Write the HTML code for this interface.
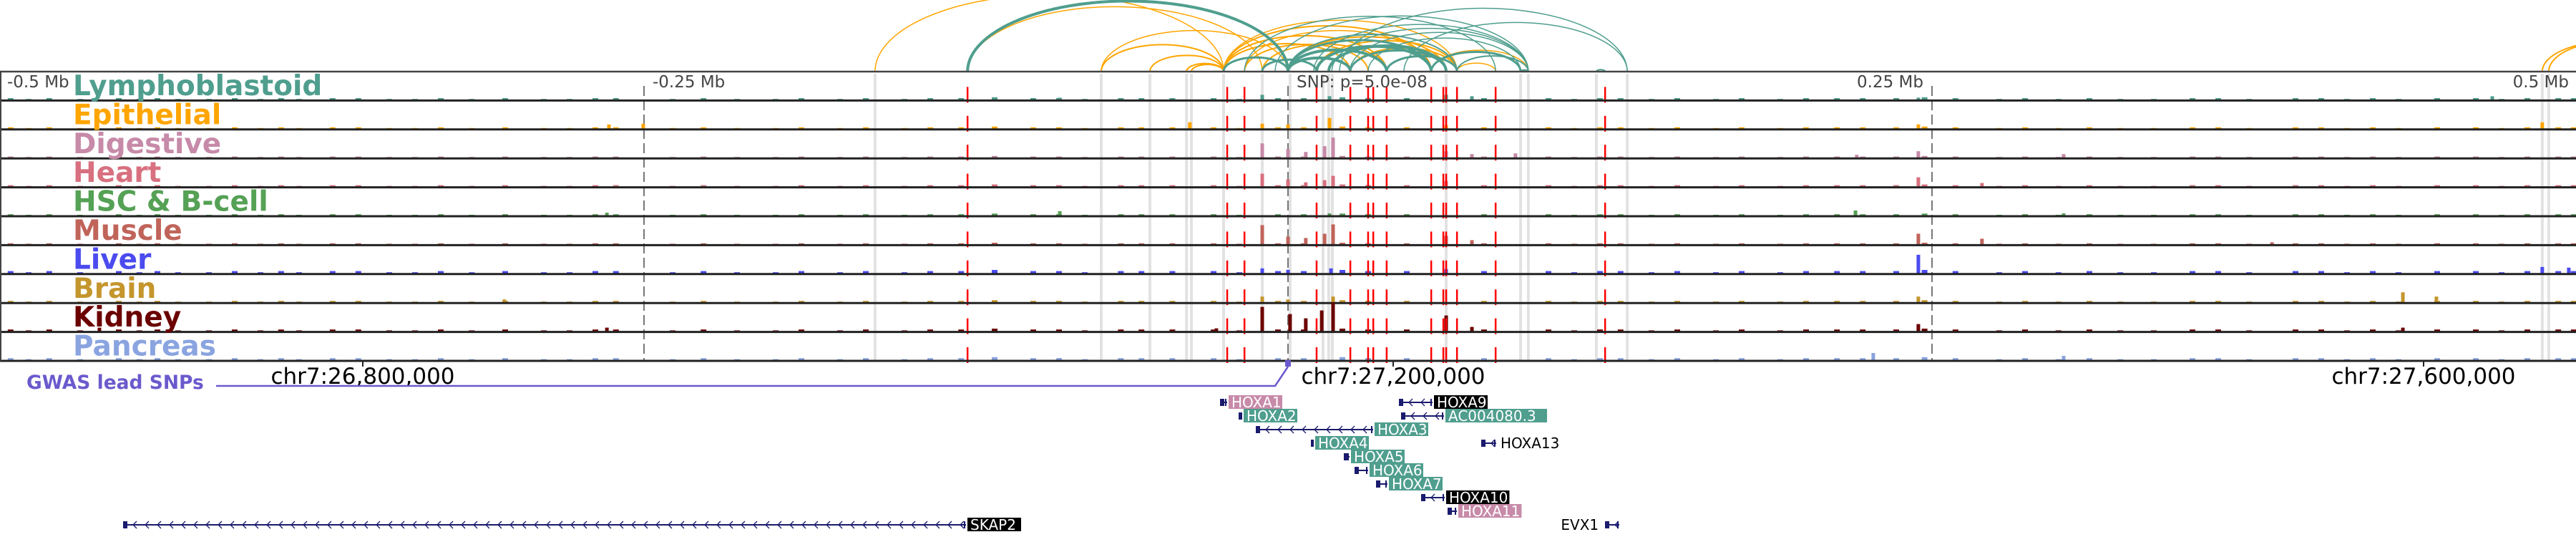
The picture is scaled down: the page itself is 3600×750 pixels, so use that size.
<!DOCTYPE html>
<html><head><meta charset="utf-8"><style>
html,body{margin:0;padding:0;background:#fff;}
svg{display:block;font-family:"DejaVu Sans","Liberation Sans",sans-serif;}
</style></head><body>
<svg id="chart" width="3600" height="750" viewBox="0 0 3600 750" xmlns="http://www.w3.org/2000/svg"></svg>
<script>
// ---- data ----
const trackNames = ["Lymphoblastoid","Epithelial","Digestive","Heart","HSC & B-cell","Muscle","Liver","Brain","Kidney","Pancreas"];
const trackColors = ["#4f9e8e","#ffa500","#c78aa8","#d8707f","#55a155","#c0645a","#4b4bef","#c4962c","#6b0000","#8aa4e0"];
const redSnpsKb = [-124.4,-23.6,-16.9,11.1,24.2,31.1,33.1,38.3,55.6,60.3,61.4,65.6,80.6,123.1];
const grayBandsKb = [-160.3,-72.5,-53.6,-39.4,-37.5,-25,-10,0.8,13.6,15.8,17.2,61.4,90.3,93.3,119.7,131.7,486.9,489.4];
const axisTicksKb = [-500,-250,0,250,500];
const axisTickLabels = ["-0.5 Mb","-0.25 Mb","SNP: p=5.0e-08","0.25 Mb","0.5 Mb"];
const bgBinsKb = [-497,-490,-482,-470,-455,-447,-440,-432,-420,-410,-400,-392,-385,-372,-362,-350,-340,-330,-318,-305,-290,-280,-270,-262,-240,-228,-215,-200,-190,-175,-165,-150,-140,-128,-115,-100,-90,-80,-66,-58,-46,-30,-20,-5,5,20,30,45,75,100,110,120,128,140,150,165,175,190,200,212,222,235,246,258,275,285,298,310,322,335,350,360,372,390,400,410,420,430,445,460,470,480,492,498];
const bgBinsH = [2,1,2,1,2,1,2,1,1,2,1,2,1,2,2,1,1,2,1,2,1,1,2,2,1,2,1,1,2,1,2,1,2,2,3,2,2,1,2,2,2,2,1,2,2,3,2,2,2,2,1,2,2,1,2,1,2,1,2,2,2,2,3,2,1,2,1,2,1,1,2,2,1,2,2,1,2,1,2,2,1,2,2,2];
const bgScale = [1.2,1,0.8,1,0.9,0.8,1.6,1,1.2,1.4];
const peaksLympho = [[-10,7],[16.1,5],[61.4,7],[71.4,5],[-88.6,3],[467.5,5],[244.7,3]];
const peaksEpi = [[-38.1,9],[-10,7],[0,6],[16.1,15],[61.4,5],[-263.6,6],[-250.3,7],[244.7,6],[486.9,9]];
const peaksDig = [[-10,20],[0,12],[6.9,8],[14.2,16],[17.5,28],[61.4,9],[71.4,5],[88.3,6],[244.7,9],[220.8,4],[301.1,5]];
const peaksHeart = [[-10,18],[0,10],[6.9,6],[14.2,9],[17.5,15],[61.4,8],[244.7,13],[269.4,5]];
const peaksHsc = [[16.1,3],[-264.4,4],[-88.6,6],[220.3,7],[301.1,3]];
const peaksMuscle = [[-10,27],[0,11],[6.9,9],[14.2,15],[17.5,28],[61.4,12],[71.4,6],[244.7,15],[269.4,8],[382,3]];
const peaksLiver = [[-10,7],[0,5],[16.7,7],[61.4,6],[244.7,26],[497.2,8],[486.9,9]];
const peaksBrain = [[-10,8],[0,4],[17.5,8],[244.7,8],[432.8,14],[445.8,8],[-304.2,4]];
const peaksKidney = [[-27.8,4],[-10,34],[0.8,24],[6.9,18],[13.1,29],[17.5,40],[61.4,22],[71.4,6],[244.7,10],[-264.4,5],[-461.4,5],[432.8,5]];
const peaksPanc = [[227.2,10],[301.1,6],[-88.6,3]];
const arcTeal = [[-124.4,0,4],[-25,0,3],[-10,11.1,3],[0,24.2,4],[0,38.3,4],[0,55.6,3],[11.1,55.6,4],[15.8,61.4,4],[24.2,61.4,3],[38.3,65.6,3],[0,65.6,2],[55.6,90.3,3],[65.6,93.3,2],[90.3,93.3,2],[119.7,123.1,2],[20,131.7,1.5],[45,131.7,1.5],[10,93.3,1.5],[17,93.3,1.5],[-5,93.3,1.5],[31.1,90.3,1.5],[-16.9,80.6,1.5],[24,93.3,1.5]];
const arcOrange = [[-160.3,-25,1.5],[-124.4,-10,1.5],[-72.5,-25,2],[-53.6,-25,2],[-39.4,-25,2],[-37.5,-25,2],[-72.5,0,1.5],[-25,24.2,2],[-25,38.3,2],[-25,55.6,2],[-16.9,31.1,2],[-10,38.3,2],[0,61.4,2],[11.1,65.6,2],[24.2,65.6,2],[65.6,80.6,1.5],[55.6,93.3,1.5],[-25,65.6,1.5],[-16.9,55.6,1.5],[486.9,540,2],[489.4,545,2]];
const geneNames = ["HOXA1","HOXA2","HOXA3","HOXA4","HOXA5","HOXA6","HOXA7","HOXA9","AC004080.3","HOXA10","HOXA11","HOXA13","EVX1","SKAP2"];
const geneStarts = [27132778,27140000,27146667,27168056,27180833,27185000,27193333,27202222,27203056,27210833,27221111,27234167,27282222,26706944];
const geneEnds = [27135556,27141389,27192222,27169167,27183056,27190278,27197778,27215278,27219722,27220000,27224722,27240000,27287778,27034167];
const geneRows = [0,1,2,3,4,5,6,0,1,7,8,3,9,9];
const geneLabelBg = ["#c78aa8","#4f9e8e","#4f9e8e","#4f9e8e","#4f9e8e","#4f9e8e","#4f9e8e","#000","#4f9e8e","#000","#c78aa8","none","none","#000"];
const coordTicks = [26800000,27200000,27600000];
const coordTickLabels = ["chr7:26,800,000","chr7:27,200,000","chr7:27,600,000"];
const leadSnpKb = [0];

// ---- scales ----
const NS="http://www.w3.org/2000/svg";
const svg=document.getElementById('chart');
const xKb = kb => 1800 + kb*3.6;
const xBp = bp => 1947 + (bp-27200000)*0.0036;
const trackTop=100, rowH=40.4;
function mk(tag,attrs,parent){const e=document.createElementNS(NS,tag);for(const k in attrs)e.setAttribute(k,attrs[k]);(parent||svg).appendChild(e);return e;}

// gray bands
const gBands=mk('g',{});


grayBandsKb.forEach(kb=>{const r=mk('rect',{x:xKb(kb)-2,y:trackTop+3,width:4,height:rowH*10-3,fill:'#e2e2e2'},gBands);

});
// dashed tick lines
axisTicksKb.forEach((kb,i)=>{if(i===0||i===4)return;const l=mk('line',{x1:xKb(kb),x2:xKb(kb),y1:trackTop+20,y2:trackTop+rowH*10,stroke:'#777','stroke-width':2,'stroke-dasharray':'14,6'});

});

// arcs
function drawArc(a,color,name){const x1=xKb(a[0]),x2=xKb(a[1]);const rx=(x2-x1)/2,ry=rx*0.44;
const p=mk('path',{d:`M${x1},${trackTop} A${rx},${ry} 0 0 1 ${x2},${trackTop}`,fill:'none',stroke:color,'stroke-width':a[2]});

}
arcOrange.forEach(a=>drawArc(a,'#ffa500','epithelial-loop-arc'));
arcTeal.forEach(a=>drawArc(a,'#4f9e8e','lymphoblastoid-loop-arc'));

// tracks
const peaksAll=[peaksLympho,peaksEpi,peaksDig,peaksHeart,peaksHsc,peaksMuscle,peaksLiver,peaksBrain,peaksKidney,peaksPanc];
trackNames.forEach((nm,i)=>{
  const base=trackTop+rowH*(i+1);
  const g=mk('g',{});
  
  
  bgBinsKb.forEach((kb,j)=>{const h=Math.max(1,bgBinsH[j]*bgScale[i]);mk('rect',{x:xKb(kb),y:base-h-1,width:8,height:h,fill:trackColors[i]},g);});
  peaksAll[i].forEach(p=>{const b=mk('rect',{x:xKb(p[0])-2.5,y:base-p[1]-1,width:5,height:p[1],fill:trackColors[i]},g);
    
    });
  redSnpsKb.forEach(kb=>{const l=mk('line',{x1:xKb(kb),x2:xKb(kb),y1:base-19,y2:base+3,stroke:'#f00','stroke-width':2.5},g);
    
    });
  const sep=mk('line',{x1:0,x2:3600,y1:base,y2:base,stroke:'#222','stroke-width':3},g);
  
  
  const t=mk('text',{x:102,y:trackTop+rowH*i+33,fill:trackColors[i],'font-size':39,'font-weight':'bold'},g);
  t.textContent=nm;
  
  
});
const topLine=mk('line',{x1:0,x2:3600,y1:trackTop,y2:trackTop,stroke:'#444','stroke-width':2.5});


const lb=mk('line',{x1:1,x2:1,y1:trackTop,y2:trackTop+rowH*10,stroke:'#444','stroke-width':2});


// distance labels
axisTicksKb.forEach((kb,i)=>{let x=xKb(kb),anchor='start';
  if(i===0)x=10; else if(i===1||i===2)x+=12; else if(i===3){x-=12;anchor='end';} else {x=3590;anchor='end';}
  const t=mk('text',{x:x,y:trackTop+22,'font-size':23,fill:'#444','text-anchor':anchor});
  t.textContent=axisTickLabels[i];
  
  });

// genomic coordinate axis
coordTicks.forEach((bp,i)=>{const x=xBp(bp);
  const tk=mk('line',{x1:x,x2:x,y1:504,y2:512,stroke:'#222','stroke-width':2});
  
  
  const t=mk('text',{x:x,y:536,'font-size':31,fill:'#000','text-anchor':'middle'});
  t.textContent=coordTickLabels[i];
  
  });

// GWAS lead SNP track
const gw=mk('text',{x:37,y:543,'font-size':26.5,'font-weight':'bold',fill:'#6a5acd'});
gw.textContent='GWAS lead SNPs';


leadSnpKb.forEach(kb=>{const x=xKb(kb);
  const p=mk('path',{d:`M302,539 L${x-18},539 L${x},512`,fill:'none',stroke:'#6a5acd','stroke-width':2.5});
  
  
  const r=mk('rect',{x:x-4,y:503,width:8,height:9,fill:'#6a5acd'});
  
  });

// genes
geneNames.forEach((nm,i)=>{
  const x1=xBp(geneStarts[i]),x2=xBp(geneEnds[i]);const top=552+19*geneRows[i];const cy=top+10;
  const g=mk('g',{});
  
  
  mk('line',{x1:x1,x2:x2,y1:cy,y2:cy,stroke:'#1a1a6e','stroke-width':2},g);
  for(let cx=x1+14;cx<x2-6;cx+=17){mk('path',{d:`M${cx+5},${cy-5} L${cx},${cy} L${cx+5},${cy+5}`,fill:'none',stroke:'#1a1a6e','stroke-width':1.3},g);}
  mk('rect',{x:x1,y:cy-5,width:Math.min(6,x2-x1),height:10,fill:'#1a1a6e'},g);
  mk('rect',{x:Math.max(x1,x2-3),y:cy-5,width:2,height:10,fill:'#1a1a6e'},g);
  const w=nm.length*13.4+8;
  let lx = nm==='EVX1' ? x1-4-w : x2+2;
  if(geneLabelBg[i]!=='none') mk('rect',{x:lx,y:top,width:w,height:19,fill:geneLabelBg[i]},g);
  const t=mk('text',{x:lx+4,y:top+17,'font-size':20,fill:geneLabelBg[i]==='none'?'#000':'#fff'},g);
  t.textContent=nm;
  
  
});
</script>
</body></html>
